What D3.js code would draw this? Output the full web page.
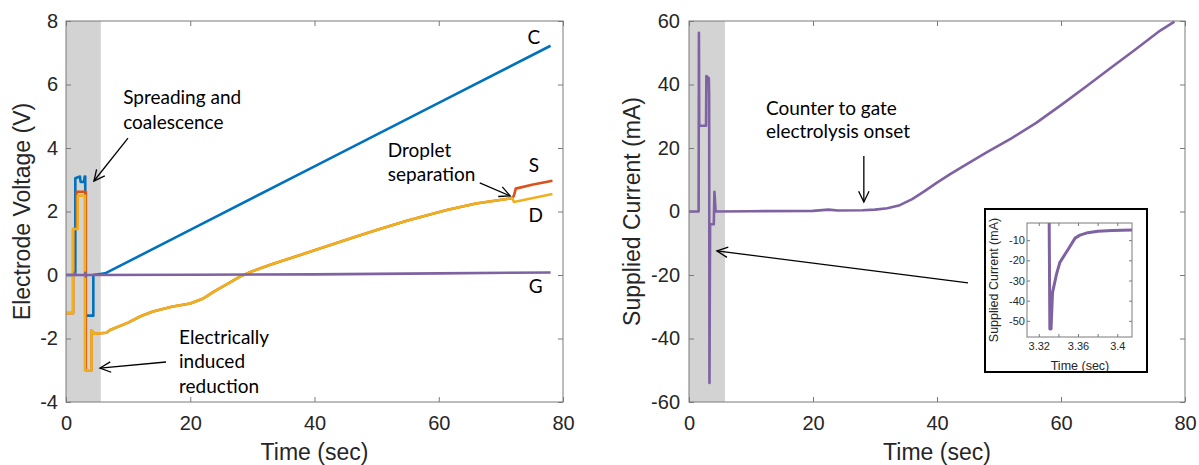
<!DOCTYPE html>
<html><head><meta charset="utf-8">
<script src="https://cdn.jsdelivr.net/npm/d3@7"></script>
<style>body{margin:0;background:#fff}svg{display:block}</style>
</head><body>
<svg id="c" width="1199" height="465"></svg>
<script>
// ---------- data ----------
const timeTicks = [0, 20, 40, 60, 80];
const voltTicks = [-4, -2, 0, 2, 4, 6, 8];
const currTicks = [-60, -40, -20, 0, 20, 40, 60];
const insetTimeTicks = [3.32, 3.34, 3.36, 3.38, 3.40];
const insetTimeLabels = [3.32, 3.36, 3.4];
const insetCurrTicks = [-50, -40, -30, -20, -10];
const shadedWindowLeft = [0, 5.6];
const shadedWindowRight = [0, 5.8];

// Electrode voltages [time (s), voltage (V)]
const seriesC = [[0,0],[1.5,0],[1.5,3.05],[2.25,3.1],[2.35,2.93],[2.9,2.93],[3.0,3.1],[3.1,3.1],[3.1,-1.28],[4.4,-1.28],[4.4,0],[6.3,0.05],[20,1.42],[40,3.42],[60,5.42],[78,7.22]];
const seriesS = [[0,-1.2],[1.15,-1.2],[1.15,1.45],[1.7,1.45],[1.7,2.62],[3.2,2.62],[3.2,-3.0],[4.1,-3.0],[4.1,-1.75],[4.6,-1.85],[6.5,-1.82],[7.1,-1.73],[10,-1.5],[12,-1.3],[14,-1.15],[17,-1.0],[20,-0.9],[22,-0.75],[24,-0.5],[26,-0.28],[28,-0.05],[30,0.12],[33,0.33],[37.7,0.63],[45,1.1],[50,1.42],[55,1.72],[61.3,2.05],[66,2.25],[71.8,2.42],[72.1,2.5],[72.4,2.72],[75,2.84],[78.3,2.97]];
const seriesD = [[0,-1.2],[1.15,-1.2],[1.15,1.45],[1.9,1.45],[1.9,2.5],[3.05,2.5],[3.05,-3.0],[4.1,-3.0],[4.1,-1.75],[4.6,-1.85],[6.5,-1.82],[7.1,-1.73],[10,-1.5],[12,-1.3],[14,-1.15],[17,-1.0],[20,-0.9],[22,-0.75],[24,-0.5],[26,-0.28],[28,-0.05],[30,0.12],[33,0.33],[37.7,0.63],[45,1.1],[50,1.42],[55,1.72],[61.3,2.05],[66,2.25],[71.8,2.42],[72.1,2.3],[75,2.42],[78.3,2.55]];
const seriesG = [[0,0],[1.3,0],[1.4,0.08],[1.5,0],[3.0,0],[3.1,0.07],[3.2,-0.05],[3.3,0],[20,0.01],[40,0.02],[60,0.05],[78,0.08]];

// Supplied current [time (s), current (mA)]
const current = [[0,0],[1.55,0],[1.6,56.3],[1.65,27],[2.75,27],[2.8,42.7],[3.2,42],[3.25,36],[3.3,-54],[3.4,-4],[4.0,-4],[4.1,6.2],[4.3,0],[10,0.1],[20,0.2],[22.5,0.6],[24,0.3],[28,0.4],[30,0.6],[32,1.0],[34,2.0],[36,3.9],[38,6.4],[40,9.1],[42,11.6],[44,14.0],[48,18.6],[52,23],[56,27.9],[60,33.5],[64,39.3],[68,45.2],[72,51],[76,57],[78.3,59.8]];
// Inset (zoom on the negative spike)
const insetCurrent = [[3.3306,2],[3.3306,-1],[3.3313,-54],[3.3325,-54],[3.334,-36],[3.338,-27],[3.3415,-21],[3.35,-14.5],[3.357,-9],[3.362,-7.5],[3.37,-6.3],[3.38,-5.6],[3.395,-5.2],[3.415,-5]];

// ---------- styles ----------
const COL = {C:"#0072BD", S:"#D95319", D:"#EDB120", G:"#7E62A1"};
const AX = "#7a7a7a", TXT = "#262626";
const AXFONT = "'Liberation Sans', Arial, Helvetica, sans-serif";
const ANFONT = "Lato, 'Open Sans', sans-serif";
const fmt = d => String(+d.toFixed(2));   // plain hyphen-minus like the original

const svg = d3.select("#c");

function arrow(g, x1, y1, x2, y2) {
  g.append("line").attr("x1",x1).attr("y1",y1).attr("x2",x2).attr("y2",y2)
   .attr("stroke","#000").attr("stroke-width",1.3);
  const a = Math.atan2(y2-y1, x2-x1), L = 12, w = 0.45;
  const p = [[x2 - L*Math.cos(a-w), y2 - L*Math.sin(a-w)],[x2,y2],[x2 - L*Math.cos(a+w), y2 - L*Math.sin(a+w)]];
  g.append("path").attr("d", d3.line()(p)).attr("fill","none").attr("stroke","#000").attr("stroke-width",1.3);
}

function frame(g, x, y, xt, yt, opts) {
  const [X0,X1] = x.range(), [Y1,Y0] = y.range();
  const ts = opts.tick || 5;
  const bottom = d3.axisBottom(x).tickValues(xt).tickSizeInner(-ts).tickSizeOuter(0).tickPadding(opts.xpad)
     .tickFormat(opts.xfmt || fmt);
  const gb = g.append("g").attr("transform",`translate(0,${Y1})`).call(bottom);
  const gt = g.append("g").attr("transform",`translate(0,${Y0})`).call(d3.axisTop(x).tickValues(xt).tickSizeInner(-ts).tickSizeOuter(0).tickFormat(""));
  const gl = g.append("g").attr("transform",`translate(${X0},0)`).call(d3.axisLeft(y).tickValues(yt).tickSizeInner(-ts).tickSizeOuter(0).tickPadding(opts.ypad).tickFormat(fmt));
  const gr = g.append("g").attr("transform",`translate(${X1},0)`).call(d3.axisRight(y).tickValues(yt).tickSizeInner(-ts).tickSizeOuter(0).tickFormat(""));
  [gb,gt,gl,gr].forEach(a=>{
    a.select(".domain").remove();
    a.selectAll("line").attr("stroke",AX);
    a.selectAll("text").attr("fill",TXT).style("font-family",AXFONT).style("font-size",opts.fs+"px");
  });
  g.append("rect").attr("x",X0).attr("y",Y0).attr("width",X1-X0).attr("height",Y1-Y0)
   .attr("fill","none").attr("stroke",AX).attr("stroke-width",1);
}

// ---------- left panel ----------
{
  const x = d3.scaleLinear().domain([0,80]).range([66,563]);
  const y = d3.scaleLinear().domain([-4,8]).range([402,21]);
  const g = svg.append("g");
  g.append("rect").attr("x",x(shadedWindowLeft[0])).attr("y",y(8)).attr("width",x(shadedWindowLeft[1])-x(shadedWindowLeft[0])).attr("height",y(-4)-y(8)).attr("fill","#d3d3d3");
  const line = d3.line().x(d=>x(d[0])).y(d=>y(d[1]));
  [["C",seriesC],["S",seriesS],["D",seriesD],["G",seriesG]].forEach(([k,d])=>{
    g.append("path").attr("d",line(d)).attr("fill","none").attr("stroke",COL[k]).attr("stroke-width",2.6).attr("stroke-linejoin","round");
  });
  frame(g, x, y, timeTicks, voltTicks, {xpad:14, ypad:8, fs:20});
  g.append("text").attr("x",(66+563)/2).attr("y",460).attr("text-anchor","middle").attr("fill",TXT)
   .style("font-family",AXFONT).style("font-size","23px").text("Time (sec)");
  g.append("text").attr("transform",`translate(30,${(21+402)/2}) rotate(-90)`).attr("text-anchor","middle").attr("fill",TXT)
   .style("font-family",AXFONT).style("font-size","23px").text("Electrode Voltage (V)");
  const an = (t, tx, ty, anchor="start") => g.append("text").attr("x",x(tx)).attr("y",y(ty)).attr("text-anchor",anchor)
     .attr("fill","#000").style("font-family",ANFONT).style("font-size","19px").text(t);
  an("Spreading and", 9.2, 5.39); an("coalescence", 9.2, 4.6);
  arrow(g, x(9.98), y(4.31), x(4.5), y(2.96));
  an("Electrically", 18.2, -2.17); an("induced", 18.2, -2.93); an("reduction", 18.2, -3.72);
  arrow(g, x(16.1), y(-2.74), x(5.47), y(-2.93));
  an("Droplet", 51.8, 3.72); an("separation", 51.8, 2.96);
  arrow(g, x(66.6), y(2.9), x(71.5), y(2.49));
  an("C", 75.3, 7.28, "middle"); an("S", 75.3, 3.24, "middle"); an("D", 75.6, 1.67, "middle"); an("G", 75.6, -0.57, "middle");
}

// ---------- right panel ----------
{
  const x = d3.scaleLinear().domain([0,80]).range([689,1185]);
  const y = d3.scaleLinear().domain([-60,60]).range([402,21]);
  const g = svg.append("g");
  g.append("rect").attr("x",x(shadedWindowRight[0])).attr("y",y(60)).attr("width",x(shadedWindowRight[1])-x(shadedWindowRight[0])).attr("height",y(-60)-y(60)).attr("fill","#d3d3d3");
  const line = d3.line().x(d=>x(d[0])).y(d=>y(d[1]));
  g.append("path").attr("d",line(current)).attr("fill","none").attr("stroke",COL.G).attr("stroke-width",2.6).attr("stroke-linejoin","round");
  frame(g, x, y, timeTicks, currTicks, {xpad:14, ypad:9, fs:20});
  g.append("text").attr("x",(689+1185)/2).attr("y",460).attr("text-anchor","middle").attr("fill",TXT)
   .style("font-family",AXFONT).style("font-size","23px").text("Time (sec)");
  g.append("text").attr("transform",`translate(640,${(21+402)/2}) rotate(-90)`).attr("text-anchor","middle").attr("fill",TXT)
   .style("font-family",AXFONT).style("font-size","23px").text("Supplied Current (mA)");
  const an = (t, tx, ty) => g.append("text").attr("x",x(tx)).attr("y",y(ty)).attr("fill","#000")
     .style("font-family",ANFONT).style("font-size","19px").text(t);
  an("Counter to gate", 12.4, 30.4); an("electrolysis onset", 12.4, 23.1);
  arrow(g, x(28.2), y(17.5), x(28.2), y(3));
  arrow(g, x(45), y(-22.5), x(4.5), y(-12.4));

  // inset
  const ig = svg.append("g");
  ig.append("rect").attr("x",985).attr("y",209).attr("width",162).attr("height",163).attr("fill","#fff").attr("stroke","#000").attr("stroke-width",2);
  const ix = d3.scaleLinear().domain([3.308,3.415]).range([1027,1132]);
  const iy = d3.scaleLinear().domain([-58,-1.5]).range([337,223]);
  ig.append("clipPath").attr("id","ic").append("rect").attr("x",1027).attr("y",223).attr("width",105).attr("height",114);
  ig.append("path").attr("clip-path","url(#ic)").attr("d", d3.line().x(d=>ix(d[0])).y(d=>iy(d[1]))(insetCurrent))
    .attr("fill","none").attr("stroke",COL.G).attr("stroke-width",3).attr("stroke-linejoin","round");
  frame(ig, ix, iy, insetTimeTicks, insetCurrTicks, {xpad:5, ypad:2, fs:11, tick:3,
        xfmt: d => insetTimeLabels.some(v=>Math.abs(v-d)<1e-9) ? fmt(d) : ""});
  ig.append("text").attr("x",1080).attr("y",370).attr("text-anchor","middle").attr("fill",TXT)
    .style("font-family",AXFONT).style("font-size","12.5px").text("Time (sec)");
  ig.append("text").attr("transform",`translate(998,280) rotate(-90)`).attr("text-anchor","middle").attr("fill",TXT)
    .style("font-family",AXFONT).style("font-size","12.5px").text("Supplied Current (mA)");
}
</script>
</body></html>
